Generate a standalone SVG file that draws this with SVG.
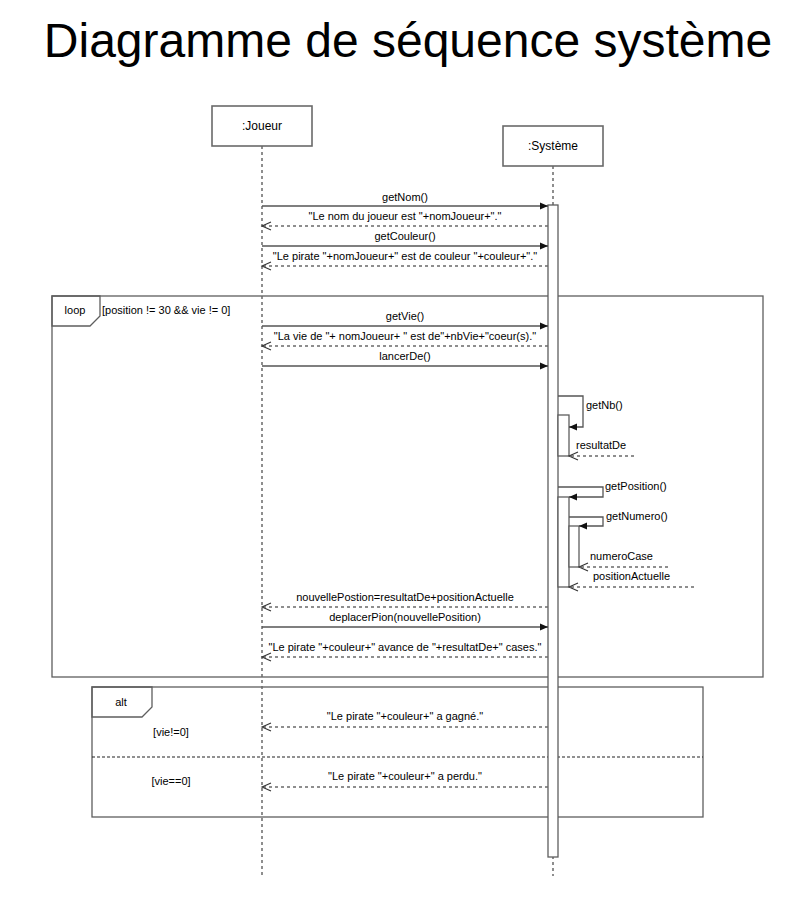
<svg xmlns="http://www.w3.org/2000/svg" width="802" height="908" viewBox="0 0 802 908">
<style>
text{font-family:"Liberation Sans",Arial,sans-serif;fill:#000}
.t{font-size:11px}
.c{text-anchor:middle}
.box{fill:#fff;stroke:#6a6a6a;stroke-width:1.6}
.frame{fill:none;stroke:#5e5e5e;stroke-width:1.3}
.life{stroke:#6a6a6a;stroke-width:1.5;stroke-dasharray:3,3;fill:none}
.act{fill:#fff;stroke:#5e5e5e;stroke-width:1.3}
.call{stroke:#555;stroke-width:1.3;fill:none;marker-end:url(#filled)}
.ret{stroke:#6a6a6a;stroke-width:1.3;stroke-dasharray:3,3;fill:none;marker-end:url(#open)}
</style>
<defs>
<marker id="filled" markerUnits="userSpaceOnUse" markerWidth="10" markerHeight="10" refX="8" refY="4" orient="auto">
<path d="M0,0.5 L8,4 L0,7.5 z" fill="#111"/>
</marker>
<marker id="open" markerUnits="userSpaceOnUse" markerWidth="12" markerHeight="12" refX="9.5" refY="5" orient="auto">
<path d="M0.5,1 L9.5,5 L0.5,9" fill="none" stroke="#333" stroke-width="1.1"/>
</marker>
</defs>
<rect width="802" height="908" fill="#fff"/>
<text x="408" y="57" class="c" style="font-size:48px">Diagramme de séquence système</text>

<g id="frame-loop">
<rect x="52" y="296" width="711" height="381" class="frame"/>
<polygon points="52,296 100,296 100,316 90,326 52,326" class="frame"/>
<text x="75" y="314" class="t c">loop</text>
<text x="102" y="314" class="t">[position != 30 &amp;&amp; vie != 0]</text>
</g>

<g id="frame-alt">
<rect x="92" y="687" width="611" height="130" class="frame"/>
<polygon points="92,687 152,687 152,707 142,717 92,717" class="frame"/>
<text x="121" y="706" class="t c">alt</text>
<line x1="92" y1="757" x2="703" y2="757" stroke="#222" stroke-width="1.2" stroke-dasharray="3,2"/>
<text x="171" y="736" class="t c">[vie!=0]</text>
<text x="171" y="785" class="t c">[vie==0]</text>
</g>

<g id="lifeline-joueur">
<line x1="262" y1="146" x2="262" y2="875" class="life"/>
<rect x="212" y="106" width="100" height="40" class="box"/>
<text x="262" y="130" class="c" style="font-size:12px">:Joueur</text>
</g>

<g id="lifeline-systeme">
<line x1="553" y1="166" x2="553" y2="876" class="life"/>
<rect x="503" y="126" width="100" height="40" class="box"/>
<text x="553" y="150" class="c" style="font-size:12px">:Système</text>
<rect x="548" y="205" width="10" height="652" class="act"/>
</g>

<g id="activations">
<rect x="558" y="415" width="11" height="41" class="act"/>
<rect x="558" y="497" width="11" height="90" class="act"/>
<rect x="569" y="526" width="10" height="41" class="act"/>
</g>

<g id="connectors">
<line x1="262" y1="206" x2="548" y2="206" class="call"/>
<text x="405" y="201" class="t c">getNom()</text>
<line x1="548" y1="226" x2="262" y2="226" class="ret"/>
<text x="405" y="220" class="t c">"Le nom du joueur est "+nomJoueur+"."</text>
<line x1="262" y1="246" x2="548" y2="246" class="call"/>
<text x="405" y="240" class="t c">getCouleur()</text>
<line x1="548" y1="266" x2="262" y2="266" class="ret"/>
<text x="405" y="260" class="t c">"Le pirate "+nomJoueur+" est de couleur "+couleur+"."</text>

<line x1="262" y1="326" x2="548" y2="326" class="call"/>
<text x="405" y="320" class="t c">getVie()</text>
<line x1="548" y1="346" x2="262" y2="346" class="ret"/>
<text x="405" y="340" class="t c">"La vie de "+ nomJoueur+ " est de"+nbVie+"coeur(s)."</text>
<line x1="262" y1="366" x2="548" y2="366" class="call"/>
<text x="405" y="360" class="t c">lancerDe()</text>

<polyline points="558,396 583,396 583,427 569,427" class="call"/>
<text x="586" y="409" class="t">getNb()</text>
<line x1="634" y1="456" x2="569" y2="456" class="ret"/>
<text x="576" y="449" class="t">resultatDe</text>

<polyline points="558,487 603,487 603,497 569,497" class="call"/>
<text x="605" y="490" class="t">getPosition()</text>
<polyline points="569,517 603,517 603,526 579,526" class="call"/>
<text x="606" y="520" class="t">getNumero()</text>
<line x1="668" y1="567" x2="579" y2="567" class="ret"/>
<text x="590" y="560" class="t">numeroCase</text>
<line x1="694" y1="587" x2="569" y2="587" class="ret"/>
<text x="593" y="580" class="t">positionActuelle</text>

<line x1="548" y1="607" x2="262" y2="607" class="ret"/>
<text x="405" y="601" class="t c">nouvellePostion=resultatDe+positionActuelle</text>
<line x1="262" y1="627" x2="548" y2="627" class="call"/>
<text x="405" y="621" class="t c">deplacerPion(nouvellePosition)</text>
<line x1="548" y1="657" x2="262" y2="657" class="ret"/>
<text x="405" y="651" class="t c">"Le pirate "+couleur+" avance de "+resultatDe+" cases."</text>

<line x1="548" y1="727" x2="262" y2="727" class="ret"/>
<text x="405" y="720" class="t c">"Le pirate "+couleur+" a gagné."</text>
<line x1="548" y1="787" x2="262" y2="787" class="ret"/>
<text x="405" y="780" class="t c">"Le pirate "+couleur+" a perdu."</text>
</g>
</svg>
